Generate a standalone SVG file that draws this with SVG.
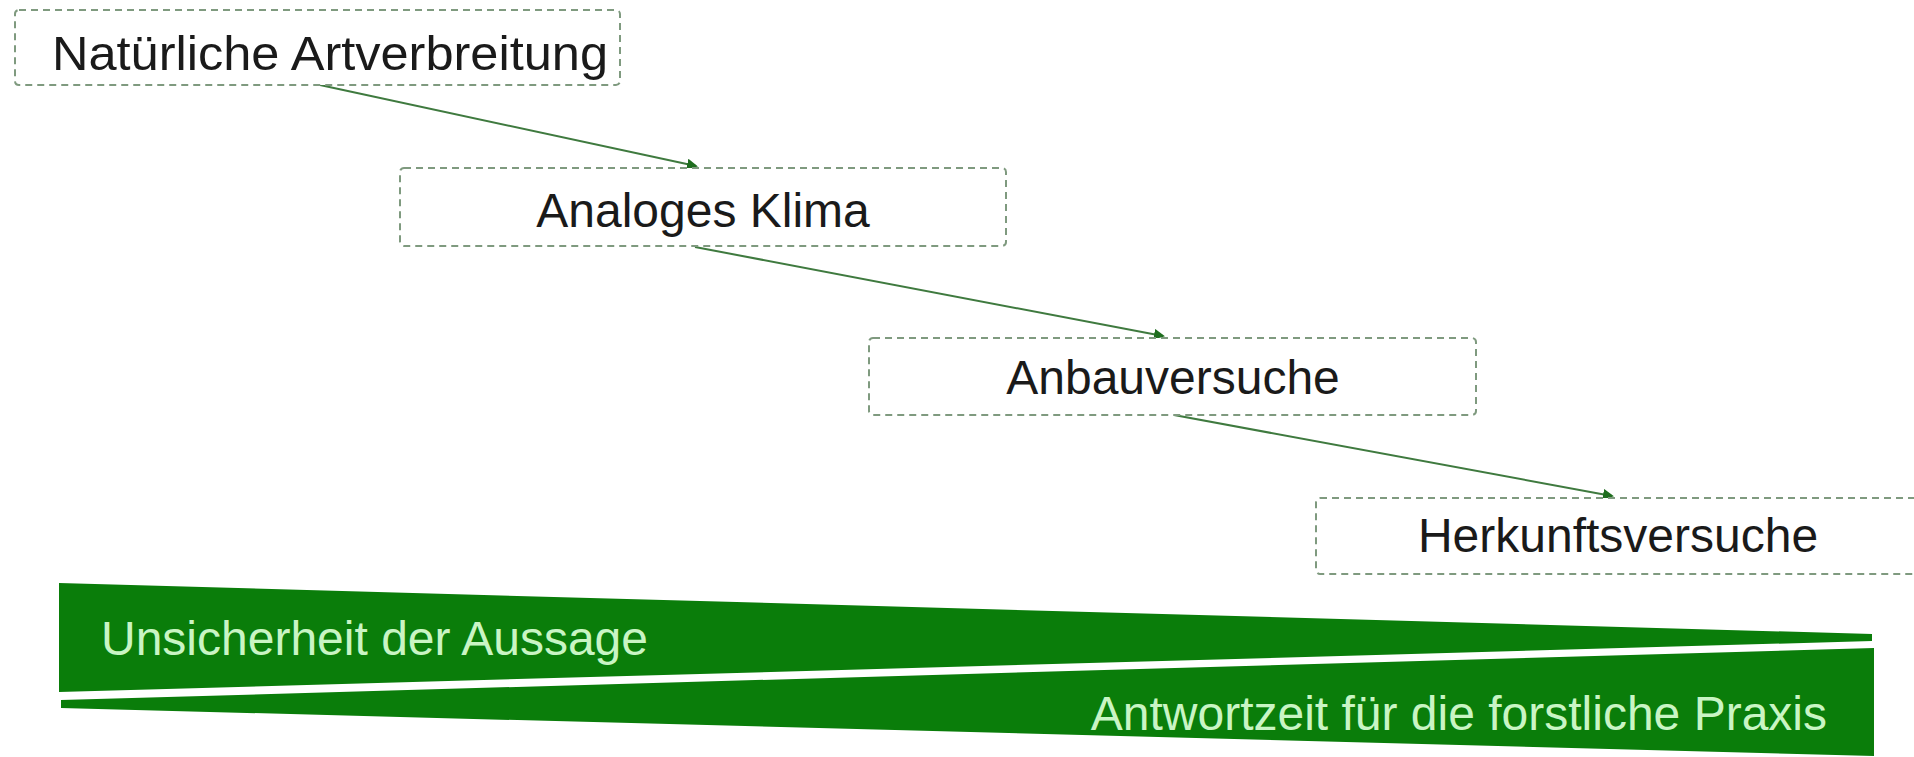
<svg xmlns="http://www.w3.org/2000/svg" width="1914" height="757" viewBox="0 0 1914 757">
<style>
.box{fill:#ffffff;stroke:#7f9a7f;stroke-width:2;stroke-dasharray:7 5}
.lbl{font-family:"Liberation Sans",Arial,sans-serif;font-size:48px;fill:#1a1a1a}
.band{fill:#0a7d0a}
.btxt{font-family:"Liberation Sans",Arial,sans-serif;font-size:48px;fill:#c9f5c4}
.conn{stroke:#3f7a3f;stroke-width:2;fill:none}
</style>
<defs>
<marker id="ah" markerWidth="11" markerHeight="11" refX="9" refY="5.5" orient="auto" markerUnits="userSpaceOnUse">
<path d="M0,0 L11,5.5 L0,11 z" fill="#1f6e1f"/>
</marker>
</defs>
<rect width="1914" height="757" fill="#ffffff"/>
<g id="connectors">
<line class="conn" x1="320" y1="85" x2="696" y2="166" marker-end="url(#ah)"/>
<line class="conn" x1="695" y1="247" x2="1163" y2="336" marker-end="url(#ah)"/>
<line class="conn" x1="1174" y1="415" x2="1612" y2="496" marker-end="url(#ah)"/>
</g>
<g id="node-natuerliche">
<rect class="box" x="15" y="10" width="605" height="75" rx="4"/>
<text class="lbl" x="52" y="70" textLength="556" lengthAdjust="spacingAndGlyphs" font-size="50">Natürliche Artverbreitung</text>
</g>
<g id="node-analoges">
<rect class="box" x="400" y="168" width="606" height="78" rx="4"/>
<text class="lbl" x="703" y="227" text-anchor="middle">Analoges Klima</text>
</g>
<g id="node-anbau">
<rect class="box" x="869" y="338" width="607" height="77" rx="4"/>
<text class="lbl" x="1173" y="394" text-anchor="middle">Anbauversuche</text>
</g>
<g id="node-herkunft">
<rect class="box" x="1316" y="498" width="606" height="76" rx="4"/>
<text class="lbl" x="1618" y="552" text-anchor="middle">Herkunftsversuche</text>
</g>
<g id="band-unsicherheit">
<polygon class="band" points="59,583 1872,634 1872,641 59,692"/>
<text class="btxt" x="101" y="655">Unsicherheit der Aussage</text>
</g>
<g id="band-antwortzeit">
<polygon class="band" points="61,700 1874,648 1874,756 61,708"/>
<text class="btxt" x="1827" y="730" text-anchor="end">Antwortzeit für die forstliche Praxis</text>
</g>
</svg>
